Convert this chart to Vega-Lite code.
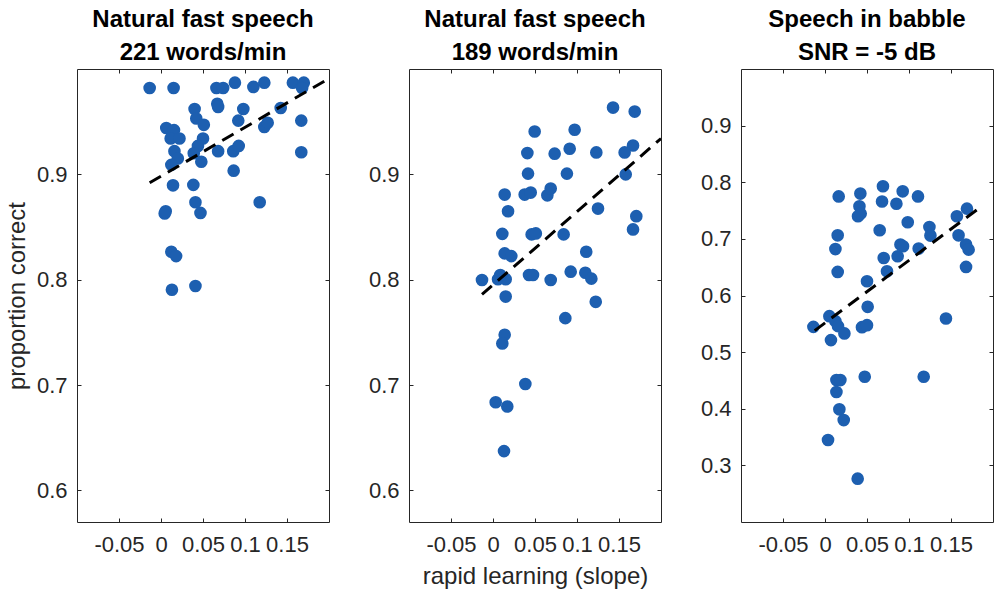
{
  "$schema": "https://vega.github.io/schema/vega-lite/v6.json",
  "background": "white",
  "padding": {"left": 4, "top": 7, "right": 0, "bottom": 0},
  "datasets": {
    "pts": [
      {"panel":1,"x":-0.0135,"y":0.982},{"panel":1,"x":0.015,"y":0.982},{"panel":1,"x":0.066,"y":0.982},{"panel":1,"x":0.074,"y":0.982},{"panel":1,"x":0.088,"y":0.987},{"panel":1,"x":0.11,"y":0.983},{"panel":1,"x":0.123,"y":0.987},{"panel":1,"x":0.157,"y":0.987},{"panel":1,"x":0.170,"y":0.987},{"panel":1,"x":0.168,"y":0.982},{"panel":1,"x":0.067,"y":0.967},{"panel":1,"x":0.068,"y":0.964},{"panel":1,"x":0.040,"y":0.962},{"panel":1,"x":0.098,"y":0.962},{"panel":1,"x":0.1425,"y":0.963},{"panel":1,"x":0.042,"y":0.953},{"panel":1,"x":0.051,"y":0.947},{"panel":1,"x":0.092,"y":0.951},{"panel":1,"x":0.167,"y":0.951},{"panel":1,"x":0.0063,"y":0.944},{"panel":1,"x":0.0155,"y":0.942},{"panel":1,"x":0.0115,"y":0.934},{"panel":1,"x":0.022,"y":0.934},{"panel":1,"x":0.050,"y":0.934},{"panel":1,"x":0.123,"y":0.945},{"panel":1,"x":0.127,"y":0.949},{"panel":1,"x":0.016,"y":0.922},{"panel":1,"x":0.044,"y":0.927},{"panel":1,"x":0.039,"y":0.920},{"panel":1,"x":0.068,"y":0.922},{"panel":1,"x":0.086,"y":0.922},{"panel":1,"x":0.0925,"y":0.927},{"panel":1,"x":0.167,"y":0.921},{"panel":1,"x":0.020,"y":0.915},{"panel":1,"x":0.0123,"y":0.909},{"panel":1,"x":0.048,"y":0.912},{"panel":1,"x":0.0865,"y":0.9035},{"panel":1,"x":0.0143,"y":0.8896},{"panel":1,"x":0.0385,"y":0.890},{"panel":1,"x":0.041,"y":0.8735},{"panel":1,"x":0.047,"y":0.8634},{"panel":1,"x":0.0044,"y":0.8628},{"panel":1,"x":0.0056,"y":0.865},{"panel":1,"x":0.1175,"y":0.8735},{"panel":1,"x":0.0123,"y":0.8265},{"panel":1,"x":0.018,"y":0.8224},{"panel":1,"x":0.013,"y":0.7905},{"panel":1,"x":0.041,"y":0.794},
      {"panel":2,"x":0.1429,"y":0.9634},{"panel":2,"x":0.1687,"y":0.9596},{"panel":2,"x":0.0496,"y":0.9407},{"panel":2,"x":0.0972,"y":0.9423},{"panel":2,"x":0.1667,"y":0.9274},{"panel":2,"x":0.0409,"y":0.9202},{"panel":2,"x":0.0734,"y":0.9196},{"panel":2,"x":0.0913,"y":0.9243},{"panel":2,"x":0.123,"y":0.9208},{"panel":2,"x":0.1567,"y":0.9208},{"panel":2,"x":0.0417,"y":0.9007},{"panel":2,"x":0.088,"y":0.9007},{"panel":2,"x":0.158,"y":0.900},{"panel":2,"x":0.0139,"y":0.8808},{"panel":2,"x":0.0377,"y":0.8808},{"panel":2,"x":0.0449,"y":0.8827},{"panel":2,"x":0.0647,"y":0.8801},{"panel":2,"x":0.0687,"y":0.8865},{"panel":2,"x":0.0179,"y":0.865},{"panel":2,"x":0.125,"y":0.8675},{"panel":2,"x":0.1706,"y":0.8603},{"panel":2,"x":0.1667,"y":0.8477},{"panel":2,"x":0.0111,"y":0.8435},{"panel":2,"x":0.046,"y":0.843},{"panel":2,"x":0.051,"y":0.8439},{"panel":2,"x":0.0841,"y":0.843},{"panel":2,"x":0.0139,"y":0.825},{"panel":2,"x":0.0218,"y":0.8224},{"panel":2,"x":0.111,"y":0.8265},{"panel":2,"x":-0.0131,"y":0.7997},{"panel":2,"x":0.006,"y":0.8004},{"panel":2,"x":0.0151,"y":0.8004},{"panel":2,"x":0.0087,"y":0.8045},{"panel":2,"x":0.0429,"y":0.8045},{"panel":2,"x":0.0476,"y":0.8045},{"panel":2,"x":0.0687,"y":0.7997},{"panel":2,"x":0.0925,"y":0.8076},{"panel":2,"x":0.1099,"y":0.8066},{"panel":2,"x":0.1171,"y":0.801},{"panel":2,"x":0.0151,"y":0.784},{"panel":2,"x":0.1223,"y":0.779},{"panel":2,"x":0.0861,"y":0.7635},{"panel":2,"x":0.0139,"y":0.7477},{"panel":2,"x":0.0111,"y":0.7395},{"panel":2,"x":0.0385,"y":0.701},{"panel":2,"x":0.0032,"y":0.6837},{"panel":2,"x":0.017,"y":0.6796},{"panel":2,"x":0.0131,"y":0.6373},
      {"panel":3,"x":0.0163,"y":0.775},{"panel":3,"x":0.0421,"y":0.780},{"panel":3,"x":0.069,"y":0.793},{"panel":3,"x":0.0925,"y":0.784},{"panel":3,"x":0.1107,"y":0.775},{"panel":3,"x":0.041,"y":0.7575},{"panel":3,"x":0.0679,"y":0.766},{"panel":3,"x":0.085,"y":0.762},{"panel":3,"x":0.0393,"y":0.740},{"panel":3,"x":0.0425,"y":0.7446},{"panel":3,"x":0.0151,"y":0.7063},{"panel":3,"x":0.0124,"y":0.682},{"panel":3,"x":0.0151,"y":0.6416},{"panel":3,"x":0.0651,"y":0.7152},{"panel":3,"x":0.0985,"y":0.7293},{"panel":3,"x":0.1243,"y":0.721},{"panel":3,"x":0.1255,"y":0.7058},{"panel":3,"x":0.157,"y":0.740},{"panel":3,"x":0.169,"y":0.7534},{"panel":3,"x":0.159,"y":0.7063},{"panel":3,"x":0.1679,"y":0.690},{"panel":3,"x":0.171,"y":0.681},{"panel":3,"x":0.1679,"y":0.6505},{"panel":3,"x":0.0898,"y":0.690},{"panel":3,"x":0.0929,"y":0.687},{"panel":3,"x":0.0865,"y":0.6693},{"panel":3,"x":0.0699,"y":0.6663},{"panel":3,"x":0.1115,"y":0.6829},{"panel":3,"x":0.0738,"y":0.6429},{"panel":3,"x":0.05,"y":0.6252},{"panel":3,"x":0.0508,"y":0.580},{"panel":3,"x":-0.0138,"y":0.5446},{"panel":3,"x":0.0052,"y":0.5635},{"panel":3,"x":0.0124,"y":0.5547},{"panel":3,"x":0.0155,"y":0.5459},{"panel":3,"x":0.0231,"y":0.533},{"panel":3,"x":0.0071,"y":0.5212},{"panel":3,"x":0.044,"y":0.5441},{"panel":3,"x":0.05,"y":0.5476},{"panel":3,"x":0.144,"y":0.5594},{"panel":3,"x":0.0136,"y":0.4506},{"panel":3,"x":0.0183,"y":0.4506},{"panel":3,"x":0.0473,"y":0.4565},{"panel":3,"x":0.1175,"y":0.4565},{"panel":3,"x":0.0136,"y":0.4295},{"panel":3,"x":0.0171,"y":0.399},{"panel":3,"x":0.0223,"y":0.380},{"panel":3,"x":0.0036,"y":0.3448},{"panel":3,"x":0.0389,"y":0.2765}
    ],
    "fit": [
      {"panel":1,"x":-0.0135,"y":0.892},{"panel":1,"x":0.2,"y":0.991},
      {"panel":2,"x":-0.0131,"y":0.786},{"panel":2,"x":0.2,"y":0.934},
      {"panel":3,"x":-0.0123,"y":0.538},{"panel":3,"x":0.185,"y":0.756}
    ]
  },
  "spacing": 80,
  "bounds": "flush",
  "hconcat": [
    {
      "width": 252, "height": 453,
      "title": {"text": ["Natural fast speech", "221 words/min"]},
      "layer": [
        {
          "data": {"name": "pts"},
          "transform": [{"filter": "datum.panel == 1"}],
          "mark": {"type": "circle", "size": 160, "opacity": 1, "color": "#1d5fb0"},
          "encoding": {
            "x": {"field": "x", "type": "quantitative", "scale": {"domain": [-0.1, 0.2], "nice": false, "zero": false},
              "axis": {"orient": "bottom", "values": [-0.05, 0, 0.05, 0.1, 0.15], "labelExpr": "datum.value < 0 ? '-' + format(-datum.value, '~g') : format(datum.value, '~g')", "title": null}},
            "y": {"field": "y", "type": "quantitative", "scale": {"domain": [0.57, 1.0], "nice": false, "zero": false},
              "axis": {"orient": "left", "values": [0.6, 0.7, 0.8, 0.9], "format": ".1f", "title": "proportion correct"}}
          }
        },
        {
          "data": {"name": "fit"},
          "transform": [{"filter": "datum.panel == 1"}],
          "mark": {"type": "line", "color": "black", "strokeWidth": 3, "strokeDash": [13, 8], "clip": true},
          "encoding": {
            "x": {"field": "x", "type": "quantitative", "axis": {"orient": "top", "values": [-0.05, 0, 0.05, 0.1, 0.15], "labels": false, "title": null}},
            "y": {"field": "y", "type": "quantitative", "axis": {"orient": "right", "values": [0.6, 0.7, 0.8, 0.9], "labels": false, "title": null}}
          }
        }
      ]
    },
    {
      "width": 252, "height": 453,
      "title": {"text": ["Natural fast speech", "189 words/min"]},
      "layer": [
        {
          "data": {"name": "pts"},
          "transform": [{"filter": "datum.panel == 2"}],
          "mark": {"type": "circle", "size": 160, "opacity": 1, "color": "#1d5fb0"},
          "encoding": {
            "x": {"field": "x", "type": "quantitative", "scale": {"domain": [-0.1, 0.2], "nice": false, "zero": false},
              "axis": {"orient": "bottom", "values": [-0.05, 0, 0.05, 0.1, 0.15], "labelExpr": "datum.value < 0 ? '-' + format(-datum.value, '~g') : format(datum.value, '~g')", "title": "rapid learning (slope)"}},
            "y": {"field": "y", "type": "quantitative", "scale": {"domain": [0.57, 1.0], "nice": false, "zero": false},
              "axis": {"orient": "left", "values": [0.6, 0.7, 0.8, 0.9], "format": ".1f", "title": null}}
          }
        },
        {
          "data": {"name": "fit"},
          "transform": [{"filter": "datum.panel == 2"}],
          "mark": {"type": "line", "color": "black", "strokeWidth": 3, "strokeDash": [13, 8], "clip": true},
          "encoding": {
            "x": {"field": "x", "type": "quantitative", "axis": {"orient": "top", "values": [-0.05, 0, 0.05, 0.1, 0.15], "labels": false, "title": null}},
            "y": {"field": "y", "type": "quantitative", "axis": {"orient": "right", "values": [0.6, 0.7, 0.8, 0.9], "labels": false, "title": null}}
          }
        }
      ]
    },
    {
      "width": 252, "height": 453,
      "title": {"text": ["Speech in babble", "SNR = -5 dB"]},
      "layer": [
        {
          "data": {"name": "pts"},
          "transform": [{"filter": "datum.panel == 3"}],
          "mark": {"type": "circle", "size": 160, "opacity": 1, "color": "#1d5fb0"},
          "encoding": {
            "x": {"field": "x", "type": "quantitative", "scale": {"domain": [-0.1, 0.2], "nice": false, "zero": false},
              "axis": {"orient": "bottom", "values": [-0.05, 0, 0.05, 0.1, 0.15], "labelExpr": "datum.value < 0 ? '-' + format(-datum.value, '~g') : format(datum.value, '~g')", "title": null}},
            "y": {"field": "y", "type": "quantitative", "scale": {"domain": [0.2, 1.0], "nice": false, "zero": false},
              "axis": {"orient": "left", "values": [0.3, 0.4, 0.5, 0.6, 0.7, 0.8, 0.9], "format": ".1f", "title": null}}
          }
        },
        {
          "data": {"name": "fit"},
          "transform": [{"filter": "datum.panel == 3"}],
          "mark": {"type": "line", "color": "black", "strokeWidth": 3, "strokeDash": [13, 8], "clip": true},
          "encoding": {
            "x": {"field": "x", "type": "quantitative", "axis": {"orient": "top", "values": [-0.05, 0, 0.05, 0.1, 0.15], "labels": false, "title": null}},
            "y": {"field": "y", "type": "quantitative", "axis": {"orient": "right", "values": [0.3, 0.4, 0.5, 0.6, 0.7, 0.8, 0.9], "labels": false, "title": null}}
          }
        }
      ]
    }
  ],
  "config": {
    "font": "Liberation Sans",
    "view": {"stroke": "#262626", "strokeWidth": 1},
    "title": {"font": "Liberation Sans", "fontSize": 24, "fontWeight": "bold", "color": "#000000", "lineHeight": 33, "offset": 0, "anchor": "middle"},
    "axis": {
      "grid": false, "domain": false,
      "tickSize": -4, "tickColor": "#262626", "tickWidth": 1,
      "labelFont": "Liberation Sans", "labelFontSize": 22, "labelColor": "#262626",
      "labelOverlap": false, "labelFlush": false, "labelBound": false,
      "titleFont": "Liberation Sans", "titleFontSize": 24, "titleFontWeight": "normal", "titleColor": "#262626"
    },
    "axisBottom": {"labelPadding": 16, "titlePadding": 9},
    "axisLeft": {"labelPadding": 14, "titlePadding": 7}
  }
}
